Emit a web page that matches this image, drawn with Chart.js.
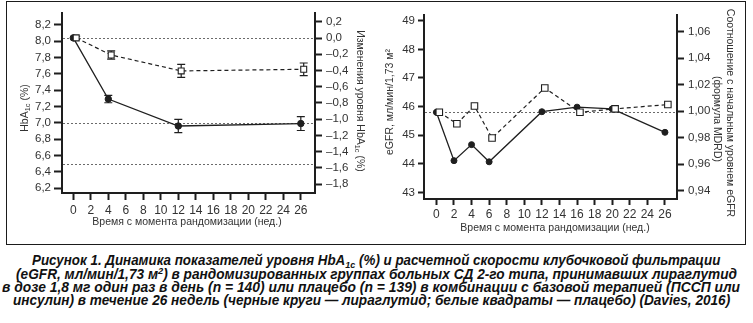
<!DOCTYPE html>
<html>
<head>
<meta charset="utf-8">
<title>HbA1c и eGFR на фоне лираглутида</title>
<script src="https://cdn.jsdelivr.net/npm/chart.js@4.4.1/dist/chart.umd.min.js"></script>
<style>
  body { margin: 0; background: #fff; width: 753px; height: 323px; overflow: hidden; position: relative; }
  #frame { position: absolute; left: 6px; top: 1px; width: 738px; height: 242px; border: 1.5px solid #1b1b1b; }
  #hba { position: absolute; left: 7px; top: 2px; }
  #gfr { position: absolute; left: 370px; top: 2px; }
  .cap { position: absolute; white-space: nowrap; font: italic bold 14px "Liberation Sans", Arial, sans-serif;
         color: #111; line-height: 13px; transform-origin: 0 50%; }
  .cap sub { font-size: 9.5px; vertical-align: -3px; line-height: 0; }
  .cap sup { font-size: 9.5px; vertical-align: 5px; line-height: 0; }
</style>
</head>
<body>
<div id="frame"></div>
<canvas id="hba" width="363" height="242"></canvas>
<canvas id="gfr" width="376" height="242"></canvas>

<div class="cap" data-l="31.7" data-r="720" style="top:254px">Рисунок 1. Динамика показателей уровня HbA<sub>1c</sub> (%) и расчетной скорости клубочковой фильтрации</div>
<div class="cap" data-l="16" data-r="737" style="top:267.5px">(eGFR, мл/мин/1,73 м<sup>2</sup>) в рандомизированных группах больных СД 2-го типа, принимавших лираглутид</div>
<div class="cap" data-l="2" data-r="740" style="top:281px">в дозе 1,8 мг один раз в день (n = 140) или плацебо (n = 139) в комбинации с базовой терапией (ПССП или</div>
<div class="cap" data-l="13.3" data-r="730.5" style="top:293.5px">инсулин) в течение 26 недель (черные круги — лираглутид; белые квадраты — плацебо) (Davies, 2016)</div>

<script>
// HbA1c, %
const weeksHba = [0, 4, 12, 26];
const hbaLira = [8.04, 7.29, 6.96, 6.99];
const hbaLiraSe = [0, 0.045, 0.08, 0.085];
const hbaPlacebo = [8.04, 7.83, 7.635, 7.655];
const hbaPlaceboSe = [0.02, 0.05, 0.08, 0.077];
const hbaGuides = [8.04, 7.0, 6.5];
const hbaTicks = [6.2, 6.4, 6.6, 6.8, 7.0, 7.2, 7.4, 7.6, 7.8, 8.0, 8.2];
const hbaChangeTicks = [-1.8, -1.6, -1.4, -1.2, -1.0, -0.8, -0.6, -0.4, -0.2, 0.0, 0.2];

// eGFR, мл/мин/1,73 м2
const weeksGfr = [0, 2, 4, 6, 12, 16, 20, 26];
const gfrLira = [45.80, 44.11, 44.67, 44.07, 45.82, 45.98, 45.92, 45.10];
const gfrPlacebo = [45.80, 45.40, 46.02, 44.90, 46.65, 45.80, 45.92, 46.07];
const gfrGuides = [45.80];
const gfrTicks = [43, 44, 45, 46, 47, 48, 49];
const ratioTicks = [0.94, 0.96, 0.98, 1.00, 1.02, 1.04, 1.06];

const weekTicks = [0, 2, 4, 6, 8, 10, 12, 14, 16, 18, 20, 22, 24, 26];

const FONT = '"Liberation Sans", Arial, sans-serif';
const ink = '#1f1f1f';
const axisInk = '#1e1e1e';
const labelInk = '#333';
const placeboShift = 0.33; // квадраты чуть сдвинуты вправо, чтобы не закрывать круги

function fmtNum(v, d) {
  return v.toFixed(d).replace('.', ',').replace('-', '\u2013');
}

function scaleOpts(o) {
  return {
    type: 'linear',
    position: o.position,
    min: o.min,
    max: o.max,
    afterBuildTicks: s => { s.ticks = o.ticks.map(v => ({ value: v })); },
    afterFit: s => { if (s.isHorizontal()) s.height = o.size; else s.width = o.size; },
    border: { display: true, color: axisInk, width: 2 },
    grid: { display: true, drawOnChartArea: false, drawTicks: true, tickLength: o.tickLength, tickWidth: 2, tickColor: axisInk },
    ticks: {
      autoSkip: false, maxRotation: 0, padding: o.padding, color: labelInk,
      font: { family: FONT, size: o.fontSize },
      callback: v => o.digits == null ? String(v) : fmtNum(v, o.digits)
    }
  };
}

function points(xs, ys, shift) {
  return xs.map((x, i) => ({ x: x + shift, y: ys[i] }));
}

function liraSet(xs, ys, r, se) {
  return {
    label: 'Лираглутид', data: points(xs, ys, 0), se: se,
    borderColor: ink, borderWidth: 1.3, backgroundColor: ink,
    pointStyle: 'circle', pointRadius: r, pointBorderWidth: 1,
    pointBackgroundColor: ink, pointBorderColor: ink, tension: 0
  };
}

function placeboSet(xs, ys, r, se) {
  return {
    label: 'Плацебо', data: points(xs, ys, placeboShift), se: se,
    borderColor: ink, borderWidth: 1.2, borderDash: [4, 3], backgroundColor: '#fff',
    pointStyle: 'rect', pointRadius: r, pointBorderWidth: 1.1,
    pointBackgroundColor: '#fff', pointBorderColor: ink, tension: 0
  };
}

// подписи с нижним индексом (HbA1c)
function drawRich(ctx, parts, x, y, rot, size) {
  ctx.save();
  ctx.translate(x, y);
  ctx.rotate(rot);
  const font = p => (p.sub ? size * 0.7 : size) + 'px ' + FONT;
  let total = 0;
  parts.forEach(p => { ctx.font = font(p); total += ctx.measureText(p.t).width; });
  let cx = -total / 2;
  ctx.textBaseline = 'middle';
  ctx.textAlign = 'left';
  ctx.fillStyle = labelInk;
  parts.forEach(p => {
    ctx.font = font(p);
    ctx.fillText(p.t, cx, p.sub ? size * 0.32 : 0);
    cx += ctx.measureText(p.t).width;
  });
  ctx.restore();
}

const extras = {
  id: 'extras',
  beforeDatasetsDraw(chart, args, opts) {
    const { ctx, chartArea: a } = chart;
    const y = chart.scales.y;
    ctx.save();
    // пунктирные ориентиры
    ctx.strokeStyle = '#6a6a6a';
    ctx.lineWidth = 1;
    ctx.setLineDash([2, 2]);
    (opts.guides || []).forEach(v => {
      const py = Math.round(y.getPixelForValue(v)) + 0.5;
      ctx.beginPath();
      ctx.moveTo(a.left + 1, py);
      ctx.lineTo(a.right - 1, py);
      ctx.stroke();
    });
    // планки погрешностей
    ctx.setLineDash([]);
    ctx.strokeStyle = ink;
    ctx.lineWidth = 1.2;
    chart.data.datasets.forEach((ds, i) => {
      if (!ds.se) return;
      const meta = chart.getDatasetMeta(i);
      ds.data.forEach((d, j) => {
        const e = ds.se[j];
        if (!e) return;
        const px = meta.data[j].x;
        const top = y.getPixelForValue(d.y + e);
        const bot = y.getPixelForValue(d.y - e);
        ctx.beginPath();
        ctx.moveTo(px, top); ctx.lineTo(px, bot);
        ctx.moveTo(px - 4, top); ctx.lineTo(px + 4, top);
        ctx.moveTo(px - 4, bot); ctx.lineTo(px + 4, bot);
        ctx.stroke();
      });
    });
    ctx.restore();
  },
  afterDraw(chart, args, opts) {
    (opts.titles || []).forEach(t => drawRich(chart.ctx, t.parts, t.x, t.y, t.rot, t.size));
  }
};

const common = {
  responsive: false,
  devicePixelRatio: 1,
  animation: false,
  events: [],
  plugins: { legend: { display: false }, tooltip: { enabled: false } }
};

new Chart(document.getElementById('hba'), {
  type: 'line',
  data: {
    datasets: [
      placeboSet(weeksHba, hbaPlacebo, 4.2, hbaPlaceboSe),
      liraSet(weeksHba, hbaLira, 3.2, hbaLiraSe)
    ]
  },
  options: {
    ...common,
    layout: { padding: { top: 10, left: 0, right: 0, bottom: 0 }, autoPadding: false },
    scales: {
      x: scaleOpts({ position: 'bottom', min: -1.29, max: 27.62, ticks: weekTicks, tickLength: 7, padding: 3, fontSize: 12, size: 51 }),
      y: scaleOpts({ position: 'left', min: 6.139, max: 8.346, ticks: hbaTicks, digits: 1, tickLength: 8, padding: 3, fontSize: 11.5, size: 55 }),
      y2: scaleOpts({ position: 'right', min: -1.91, max: 0.31, ticks: hbaChangeTicks, digits: 1, tickLength: 7, padding: 4, fontSize: 11.5, size: 55 })
    },
    plugins: {
      ...common.plugins,
      extras: {
        guides: hbaGuides,
        titles: [
          { parts: [{ t: 'HbA' }, { t: '1c', sub: true }, { t: ' (%)' }], x: 18, y: 106, rot: -Math.PI / 2, size: 10.5 },
          { parts: [{ t: 'Изменения уровня HbA' }, { t: '1c', sub: true }, { t: ' (%)' }], x: 353, y: 99, rot: Math.PI / 2, size: 10.5 },
          { parts: [{ t: 'Время с момента рандомизации (нед.)' }], x: 180, y: 220, rot: 0, size: 10.5 }
        ]
      }
    }
  },
  plugins: [extras]
});

new Chart(document.getElementById('gfr'), {
  type: 'line',
  data: {
    datasets: [
      placeboSet(weeksGfr, gfrPlacebo, 4.6, null),
      liraSet(weeksGfr, gfrLira, 3, null)
    ]
  },
  options: {
    ...common,
    layout: { padding: { top: 13, left: 0, right: 0, bottom: 0 }, autoPadding: false },
    scales: {
      x: scaleOpts({ position: 'bottom', min: -1.41, max: 27.37, ticks: weekTicks, tickLength: 6, padding: 2, fontSize: 12, size: 45 }),
      y: scaleOpts({ position: 'left', min: 42.77, max: 49.2, ticks: gfrTicks, tickLength: 6, padding: 3, fontSize: 11.5, size: 54 }),
      y2: scaleOpts({ position: 'right', min: 0.93375, max: 1.0726, ticks: ratioTicks, digits: 2, tickLength: 7, padding: 4, fontSize: 11.5, size: 69 })
    },
    plugins: {
      ...common.plugins,
      extras: {
        guides: gfrGuides,
        titles: [
          { parts: [{ t: 'eGFR, мл/мин/1,73 м²' }], x: 20, y: 100, rot: -Math.PI / 2, size: 10.5 },
          { parts: [{ t: 'Соотношение с начальным уровнем eGFR' }], x: 360, y: 111, rot: Math.PI / 2, size: 10.5 },
          { parts: [{ t: '(формула MDRD)' }], x: 347, y: 117, rot: Math.PI / 2, size: 10.5 },
          { parts: [{ t: 'Время с момента рандомизации (нед.)' }], x: 185, y: 226, rot: 0, size: 10.5 }
        ]
      }
    }
  },
  plugins: [extras]
});

// подгонка строк подписи по ширине
document.querySelectorAll('.cap').forEach(el => {
  const l = +el.dataset.l, r = +el.dataset.r;
  el.style.left = l + 'px';
  const w = el.getBoundingClientRect().width;
  el.style.transform = 'scaleX(' + ((r - l) / w).toFixed(4) + ')';
});
</script>
</body>
</html>
